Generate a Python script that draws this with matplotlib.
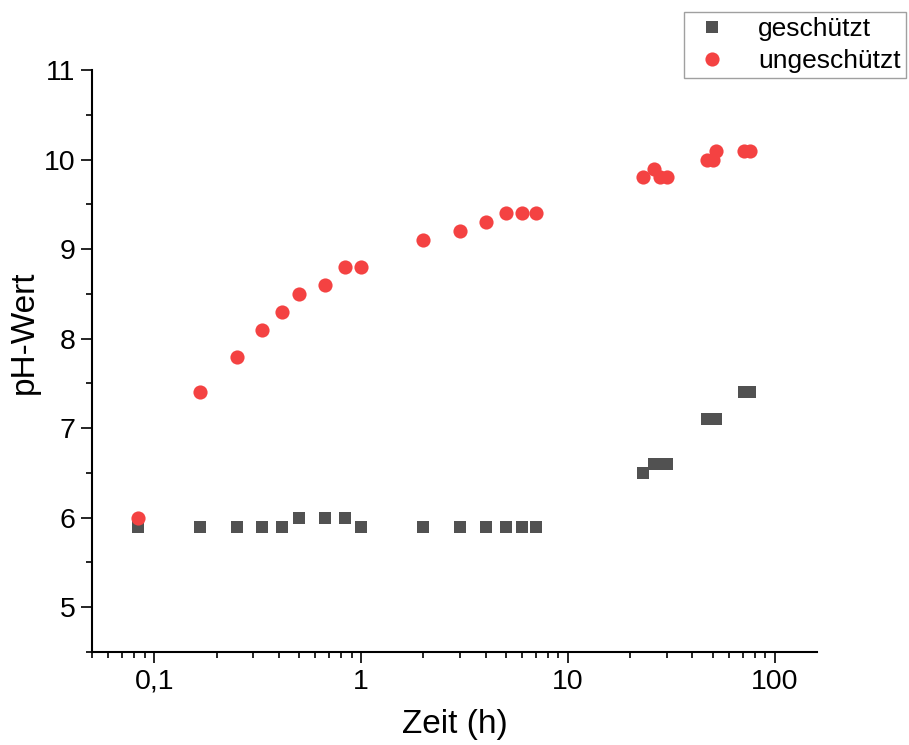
import matplotlib
matplotlib.use('Agg')
import matplotlib.pyplot as plt
from matplotlib.ticker import FixedLocator, LogLocator, NullFormatter, FuncFormatter, MultipleLocator

plt.rcParams['font.family'] = ['Liberation Sans', 'DejaVu Sans']

# Zeitpunkte in Stunden
zeit = [1/12, 1/6, 0.25, 1/3, 5/12, 0.5, 2/3, 5/6, 1,
        2, 3, 4, 5, 6, 7,
        23, 26, 28, 30, 47, 50, 52, 71, 76]

ph_geschuetzt = [5.9, 5.9, 5.9, 5.9, 5.9, 6.0, 6.0, 6.0, 5.9,
                 5.9, 5.9, 5.9, 5.9, 5.9, 5.9,
                 6.5, 6.6, 6.6, 6.6, 7.1, 7.1, 7.1, 7.4, 7.4]

ph_ungeschuetzt = [6.0, 7.4, 7.8, 8.1, 8.3, 8.5, 8.6, 8.8, 8.8,
                   9.1, 9.2, 9.3, 9.4, 9.4, 9.4,
                   9.8, 9.9, 9.8, 9.8, 10.0, 10.0, 10.1, 10.1, 10.1]

x_ticks = [0.1, 1, 10, 100]
x_ticklabels = ['0,1', '1', '10', '100']

fig = plt.figure(figsize=(9.09, 7.45), dpi=100)
ax = fig.add_axes([0.1012, 0.1248, 0.7976, 0.7812])

ax.plot(zeit, ph_geschuetzt, linestyle='none', marker='s', markersize=8.6,
        color='#515151', markeredgewidth=0, label='geschützt')
ax.plot(zeit, ph_ungeschuetzt, linestyle='none', marker='o', markersize=10.2,
        color='#f44242', markeredgewidth=0, label='ungeschützt')

ax.set_xscale('log')
ax.set_xlim(0.05, 160)
ax.set_ylim(4.5, 11)

ax.xaxis.set_major_locator(FixedLocator(x_ticks))
ax.xaxis.set_major_formatter(FuncFormatter(lambda v, p: x_ticklabels[x_ticks.index(v)] if v in x_ticks else ''))
ax.xaxis.set_minor_locator(LogLocator(base=10, subs=range(2, 10)))
ax.xaxis.set_minor_formatter(NullFormatter())
ax.yaxis.set_major_locator(FixedLocator([5, 6, 7, 8, 9, 10, 11]))
ax.yaxis.set_minor_locator(MultipleLocator(0.5))

for side in ['top', 'right']:
    ax.spines[side].set_visible(False)
for side in ['left', 'bottom']:
    ax.spines[side].set_linewidth(1.5)

ax.tick_params(which='major', direction='out', length=8, width=1.2, labelsize=20.5, pad=4)
ax.tick_params(which='minor', direction='out', length=4.5, width=1.2)

ax.set_xlabel('Zeit (h)', fontsize=24, labelpad=10)
ax.set_ylabel('pH-Wert', fontsize=24, labelpad=4)
ax.yaxis.set_label_coords(-0.072, 0.55)

leg = ax.legend(loc='upper left', bbox_to_anchor=(0.7525, 0.984), bbox_transform=fig.transFigure,
                fontsize=19, frameon=True, fancybox=False, edgecolor='#888888',
                handletextpad=0.9, borderpad=0.2, labelspacing=0.3, handlelength=1.7,
                borderaxespad=0)
leg.get_frame().set_linewidth(1.0)

plt.savefig('out.png', dpi=100)
plt.close()
